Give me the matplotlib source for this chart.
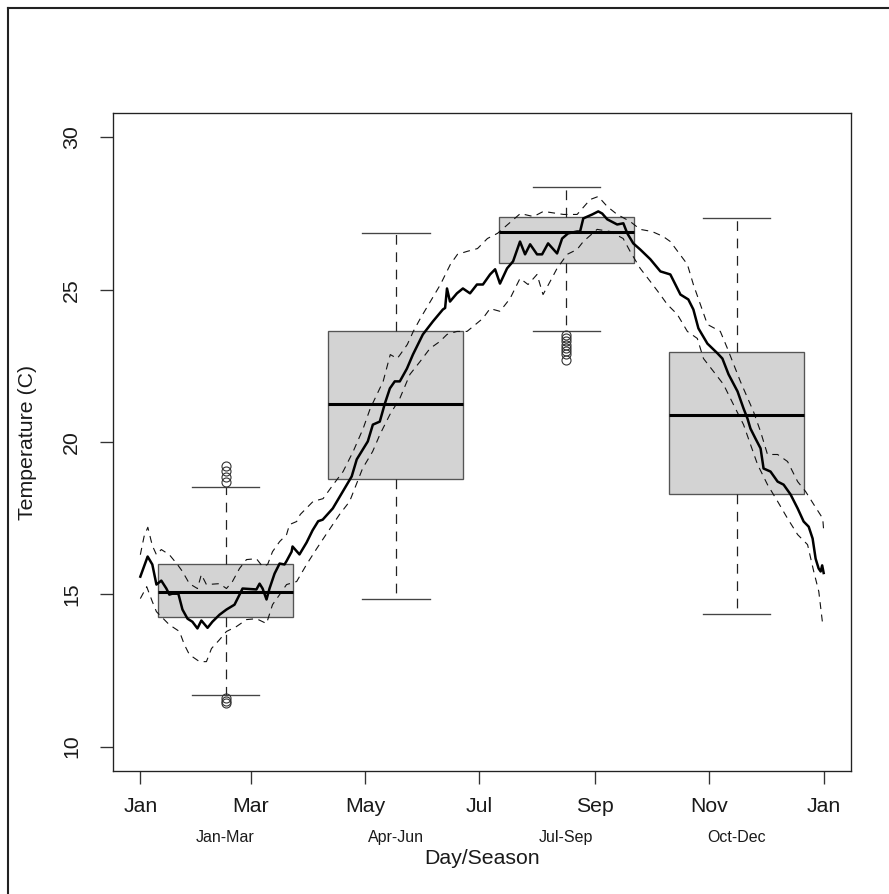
import matplotlib

matplotlib.use("Agg")
import matplotlib.pyplot as plt
from matplotlib.lines import Line2D

plt.rcParams["font.family"] = ["Liberation Sans", "DejaVu Sans"]
plt.rcParams["lines.scale_dashes"] = False

# ---- data (day of year, temperature in C)
MONTH_TICKS = [0, 59, 120, 181, 243, 304, 365]
MONTH_LABELS = ["Jan", "Mar", "May", "Jul", "Sep", "Nov", "Jan"]
SEASONS = ["Jan-Mar", "Apr-Jun", "Jul-Sep", "Oct-Dec"]
SEASON_POS = [45.5, 136.5, 227.5, 318.5]

WHIS_LO = [11.7, 14.85, 23.63, 14.37]
Q1 = [14.25, 18.8, 25.86, 18.28]
MEDIAN = [15.07, 21.24, 26.88, 20.87]
Q3 = [15.98, 23.63, 27.4, 22.97]
WHIS_HI = [18.52, 26.85, 28.36, 27.34]
FLIERS = [
    [19.2, 19.05, 18.85, 18.7, 11.6, 11.5, 11.42],
    [],
    [23.5, 23.4, 23.3, 23.2, 23.1, 23.0, 22.9, 22.7],
    [],
]

mean_day = [0, 3.9, 6.4, 8.6, 11.2, 13.9, 15.5, 17, 20.3, 22.5, 25.2, 27.8,
            30.5, 32.6, 35.9, 38.5, 42.3, 46, 50.3, 53, 54.6, 62, 63.7, 65.3,
            67.4, 69, 71.7, 74.4, 77, 78, 80.8, 81.3, 85, 88.8, 92, 95, 97.4,
            102.8, 108.1, 112.9, 115.6, 121.5, 124.2, 127.9, 130.6, 133.3,
            135.9, 138.6, 142.4, 145.6, 150.9, 156.3, 161.6, 162.8, 163.8,
            165.4, 169.1, 172.3, 176.1, 179.8, 183, 186.8, 189.5, 192.1,
            195.9, 199.1, 202.8, 205.5, 208.2, 211.9, 214.6, 217.8, 222.6,
            225.3, 228.5, 233.3, 234.9, 236.6, 241.4, 244.6, 246.7, 249.4,
            254.7, 258, 260.1, 263.3, 267, 272.4, 277.8, 283.1, 288.5, 292.7,
            295.4, 298.1, 302.9, 308.3, 310.9, 314.2, 319, 322.2, 324.3,
            325.9, 328.6, 331.3, 332.9, 336.6, 340.4, 343.6, 347.3, 351.1,
            354.3, 357, 359.1, 360.7, 362.3, 363.4, 364.2, 365]
mean_temp = [15.58, 16.24, 15.98, 15.32, 15.45, 15.19, 14.99, 15.02, 15.02,
             14.5, 14.2, 14.1, 13.88, 14.14, 13.9, 14.1, 14.33, 14.5, 14.66,
             14.99, 15.19, 15.16, 15.35, 15.19, 14.83, 15.19, 15.68, 16.01,
             15.98, 16.08, 16.4, 16.57, 16.31, 16.7, 17.1, 17.4, 17.45, 17.82,
             18.37, 18.87, 19.43, 20.02, 20.57, 20.67, 21.26, 21.76, 21.99,
             21.99, 22.41, 22.87, 23.53, 23.96, 24.35, 24.4, 25.04, 24.61,
             24.88, 25.04, 24.88, 25.17, 25.17, 25.5, 25.67, 25.2, 25.7,
             25.93, 26.58, 26.16, 26.49, 26.16, 26.16, 26.52, 26.19, 26.68,
             26.85, 26.91, 26.91, 27.34, 27.47, 27.57, 27.5, 27.31, 27.14,
             27.18, 26.85, 26.52, 26.32, 26.0, 25.6, 25.5, 24.84, 24.68,
             24.35, 23.73, 23.23, 22.91, 22.74, 22.22, 21.66, 21.1, 20.77,
             20.44, 20.11, 19.79, 19.13, 19.03, 18.7, 18.6, 18.28, 17.82,
             17.39, 17.22, 16.83, 16.17, 15.85, 15.75, 15.95, 15.7]

upper_day = [0, 2, 4, 6.4, 8.6, 11.2, 15.5, 19.8, 22.5, 26.2, 30.5, 32.6,
             35.3, 42.3, 46, 49.2, 53, 56.7, 62, 65.3, 68, 70.6, 74.4, 78.1,
             79.7, 83.5, 85.4, 92.3, 97.6, 103, 108.3, 113.7, 119, 122.8,
             129.7, 133.5, 137.2, 138.8, 142.6, 145.8, 149.6, 154.9, 160.3,
             165.6, 169.4, 174.7, 180.1, 185.4, 190.8, 203, 210, 215.3, 226,
             233.3, 240.3, 244.6, 249.4, 254.7, 261.6, 267, 273.3, 279.2,
             283.1, 292.2, 295.4, 302.9, 309.8, 313.6, 320.5, 327.5, 331.3,
             335, 340.4, 345.7, 351.1, 355.4, 359.7, 364.5, 365]
upper_temp = [16.3, 16.9, 17.2, 16.6, 16.3, 16.47, 16.3, 15.98, 15.75, 15.35,
              15.19, 15.65, 15.32, 15.35, 15.19, 15.42, 15.85, 16.14, 16.17,
              15.91, 15.98, 16.4, 16.73, 16.96, 17.29, 17.39, 17.62, 18.05,
              18.14, 18.6, 19.03, 19.69, 20.44, 21.1, 21.99, 22.87, 22.74,
              22.87, 23.2, 23.63, 24.06, 24.61, 25.17, 25.83, 26.16, 26.26,
              26.35, 26.68, 26.85, 27.5, 27.4, 27.57, 27.47, 27.47, 27.96,
              28.06, 27.73, 27.47, 27.24, 26.98, 26.91, 26.75, 26.58, 25.83,
              25.17, 23.86, 23.63, 23.07, 21.99, 21.0, 20.34, 19.59, 19.59,
              19.36, 18.7, 18.37, 17.95, 17.49, 17.1]

lower_day = [0, 3.4, 6.4, 8.6, 15.5, 20.9, 23.5, 26.2, 31.6, 35.3, 38, 42.3,
             46, 51.3, 56.7, 62, 67.4, 70.6, 74.4, 78.1, 83.5, 88.8, 94.2,
             99.6, 106.4, 111.8, 118.7, 124.1, 128, 133.3, 138.6, 144, 149.4,
             154.7, 160, 163.8, 169.1, 174.5, 177.7, 183, 186.8, 192.1, 197.5,
             202.8, 207.1, 211.9, 215.1, 218.9, 222.6, 228, 233.3, 236.6, 244,
             251, 257.9, 261.6, 267, 272.4, 277.7, 281.4, 286.8, 292.2, 297.5,
             300.8, 306.1, 311.5, 316.8, 322.2, 325.9, 329.7, 335, 340.4,
             345.7, 351.1, 356.4, 359.7, 362.4, 364.5]
lower_temp = [14.86, 15.25, 14.76, 14.43, 14.0, 13.78, 13.35, 13.02, 12.79,
              12.79, 13.22, 13.51, 13.78, 13.94, 14.17, 14.2, 14.04, 14.66,
              14.99, 15.32, 15.42, 15.98, 16.5, 17.0, 17.62, 18.05, 19.13,
              19.69, 20.25, 20.9, 21.43, 22.22, 22.64, 23.07, 23.3, 23.53,
              23.63, 23.63, 23.79, 24.06, 24.38, 24.29, 24.71, 25.37, 25.17,
              25.5, 24.84, 25.27, 25.7, 26.16, 26.32, 26.58, 26.98, 26.91,
              26.68, 26.26, 25.7, 25.27, 24.84, 24.52, 24.19, 23.63, 23.4,
              22.74, 22.32, 21.89, 21.23, 20.57, 19.92, 19.26, 18.6, 18.05,
              17.49, 16.96, 16.63, 15.75, 15.09, 14.0]

# ---- figure
W, H = 889, 894
fig = plt.figure(figsize=(W / 100, H / 100), dpi=100)
ax = fig.add_axes([113 / W, 1 - 771 / H, 738 / W, 658 / H])

stats = [dict(label=s, whislo=wl, q1=a, med=m, q3=b, whishi=wh, fliers=f)
         for s, wl, a, m, b, wh, f in zip(SEASONS, WHIS_LO, Q1, MEDIAN, Q3,
                                          WHIS_HI, FLIERS)]
ax.bxp(stats, positions=SEASON_POS, widths=72, capwidths=36,
       patch_artist=True, manage_ticks=False,
       boxprops=dict(facecolor="#d3d3d3", edgecolor="#555555", lw=0.96),
       medianprops=dict(color="black", lw=2.2),
       whiskerprops=dict(color="#222222", lw=0.9, linestyle=(0, (7, 5.5))),
       capprops=dict(color="#444444", lw=0.96),
       flierprops=dict(marker="o", markerfacecolor="none",
                       markeredgecolor="#333333", markersize=6.5,
                       markeredgewidth=0.8))

ax.plot(upper_day, upper_temp, color="#111111", lw=0.8, dashes=(5, 4))
ax.plot(lower_day, lower_temp, color="#111111", lw=0.8, dashes=(5, 4))
ax.plot(mean_day, mean_temp, color="black", lw=1.8)

ax.set_xlim(-14.6, 379.6)
ax.set_ylim(9.2, 30.8)
ax.set_xticks(MONTH_TICKS, MONTH_LABELS)
ax.set_yticks([10, 15, 20, 25, 30])
ax.tick_params(length=9.5, width=0.96, color="#333333", labelsize=15.3,
               labelcolor="#1a1a1a")
ax.tick_params(axis="x", pad=9.5)
ax.tick_params(axis="y", pad=13.5, labelrotation=90)
plt.setp(ax.get_yticklabels(), va="center")
for sp in ax.spines.values():
    sp.set_linewidth(0.96)
    sp.set_color("#222222")

for s, x in zip(SEASONS, SEASON_POS):
    ax.text(x, -0.1018, s, transform=ax.get_xaxis_transform(), ha="center",
            va="center", fontsize=11.5, color="#1a1a1a")

ax.set_xlabel("Day/Season", fontsize=15.3, color="#1a1a1a")
ax.xaxis.set_label_coords(0.5, -0.1185)
ax.set_ylabel("Temperature (C)", fontsize=15.3, color="#1a1a1a")
ax.yaxis.set_label_coords(-0.103, 0.5)

# window border (top and left edges of the captured frame)
fig.add_artist(Line2D([7.5 / W, 1], [1 - 7.5 / H] * 2, transform=fig.transFigure,
                      color="#222222", lw=1.5))
fig.add_artist(Line2D([7.5 / W] * 2, [0, 1 - 7.5 / H], transform=fig.transFigure,
                      color="#222222", lw=1.5))

fig.savefig("out.png", dpi=100)
